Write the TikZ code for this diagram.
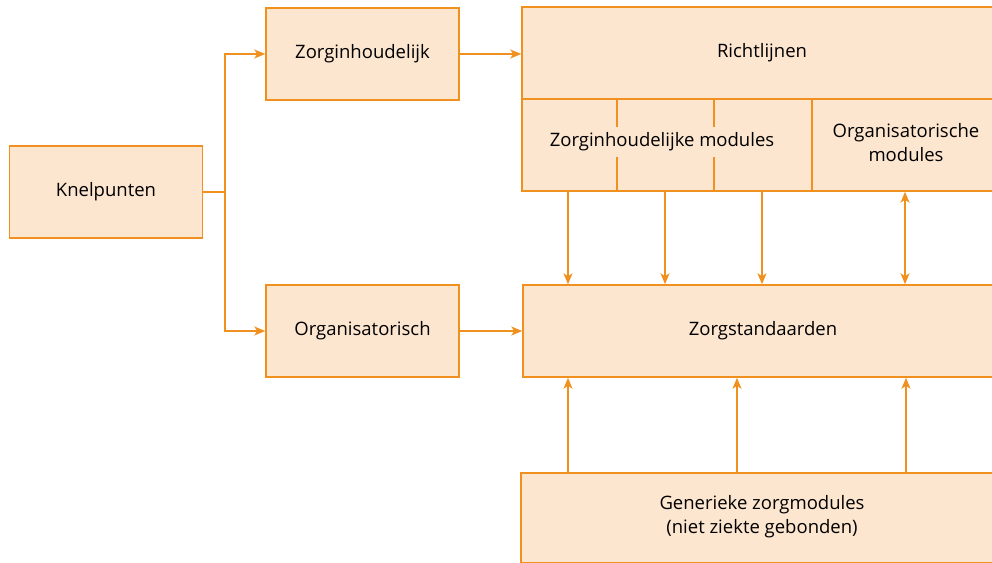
\documentclass[tikz,border=0pt]{standalone}
\usepackage{fontspec}
\setmainfont{Open Sans}
\usetikzlibrary{arrows.meta}
\definecolor{peach}{HTML}{FDE6CF}
\definecolor{orng}{HTML}{F0901E}
\begin{document}
\begin{tikzpicture}[x=1pt,y=-1pt,
  box/.style={draw=orng,fill=peach,line width=1.5pt,inner sep=0pt,font=\fontsize{18.5}{24}\selectfont,align=center},
  lbl/.style={fill=peach,inner xsep=1pt,inner ysep=6pt,font=\fontsize{18.5}{24}\selectfont,align=center},
  arr/.style={draw=orng,line width=1.5pt,-{Stealth[length=11pt,width=9pt,inset=3pt]}},
  darr/.style={draw=orng,line width=1.5pt,{Stealth[length=11pt,width=9pt,inset=3pt]}-{Stealth[length=11pt,width=9pt,inset=3pt]}},
  ln/.style={draw=orng,line width=1.5pt}]
\useasboundingbox (0,0) rectangle (992,562);
\node[box,minimum width=193pt,minimum height=92pt] (knel) at (106,192) {Knelpunten};
\node[box,minimum width=193pt,minimum height=92pt] (zinh) at (362.5,54) {Zorginhoudelijk};
\node[box,minimum width=193pt,minimum height=92pt] (org) at (362.5,331) {Organisatorisch};
\node[box,minimum width=480pt,minimum height=92pt] (richt) at (762,53) {Richtlijnen};
\node[box,minimum width=480pt,minimum height=92pt] (mods) at (762,145) {};
\node[box,minimum width=480pt,minimum height=92pt] (zorg) at (763,331) {Zorgstandaarden};
\node[box,minimum width=482pt,minimum height=90pt] (gen) at (762,518) {};
\node[font=\fontsize{18.5}{24}\selectfont,align=center] (gentxt) at (762,517) {Generieke zorgmodules\\(niet ziekte gebonden)};
% separators
\coordinate (s1) at (617,0);
\coordinate (s2) at (714,0);
\coordinate (s3) at (812,0);
\draw[ln] (mods.north -| s1) -- (mods.south -| s1);
\draw[ln] (mods.north -| s2) -- (mods.south -| s2);
\draw[ln] (mods.north -| s3) -- (mods.south -| s3);
\node[lbl] (zmods) at (662,142) {Zorginhoudelijke modules};
\node[font=\fontsize{18.5}{24}\selectfont,align=center] (omods) at (906,143) {Organisatorische\\modules};
% left connectors
\coordinate (j) at (225,192);
\draw[ln] (knel.east) -- (j);
\draw[arr] (j) |- (zinh.west);
\draw[arr] (j) |- (org.west);
\draw[arr] (zinh.east) -- (richt.west |- zinh.east);
\draw[arr] (org.east) -- (zorg.west |- org.east);
% down arrows
\coordinate (a1) at (568,0);
\coordinate (a2) at (665,0);
\coordinate (a3) at (762,0);
\coordinate (a4) at (905,0);
\draw[arr] (mods.south -| a1) -- (zorg.north -| a1);
\draw[arr] (mods.south -| a2) -- (zorg.north -| a2);
\draw[arr] (mods.south -| a3) -- (zorg.north -| a3);
\draw[darr] (mods.south -| a4) -- (zorg.north -| a4);
% up arrows
\coordinate (b1) at (568,0);
\coordinate (b2) at (737,0);
\coordinate (b3) at (906,0);
\draw[arr] (gen.north -| b1) -- (zorg.south -| b1);
\draw[arr] (gen.north -| b2) -- (zorg.south -| b2);
\draw[arr] (gen.north -| b3) -- (zorg.south -| b3);
\end{tikzpicture}
\end{document}
